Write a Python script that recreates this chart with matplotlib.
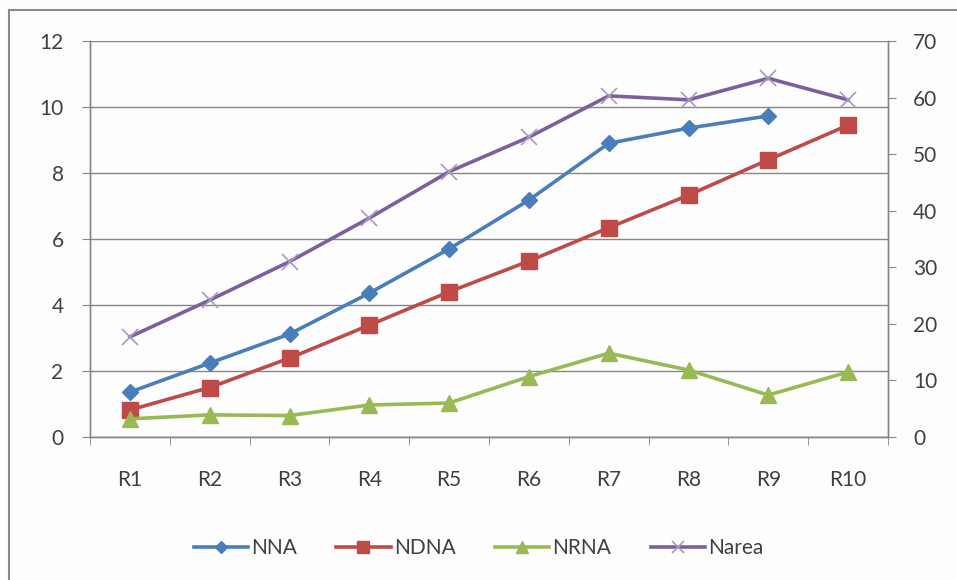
import numpy as np
import matplotlib
matplotlib.use('Agg')
import matplotlib.pyplot as plt
from matplotlib.patches import Rectangle

plt.rcParams['font.family'] = ['Lato', 'DejaVu Sans']

# data: left axis series (NNA, NDNA, NRNA), right axis (Narea)
cats = ['R1', 'R2', 'R3', 'R4', 'R5', 'R6', 'R7', 'R8', 'R9', 'R10']
nna = [1.36, 2.24, 3.12, 4.36, 5.70, 7.18, 8.90, 9.36, 9.73, np.nan]
ndna = [0.82, 1.50, 2.39, 3.39, 4.40, 5.33, 6.34, 7.33, 8.40, 9.45]
nrna = [0.55, 0.67, 0.65, 0.97, 1.03, 1.83, 2.54, 2.03, 1.27, 1.97]
narea = [17.7, 24.2, 31.0, 38.7, 46.9, 53.0, 60.3, 59.6, 63.4, 59.6]

c_nna = '#4a7ebb'
c_ndna = '#be4b48'
c_nrna = '#98b954'
c_narea = '#7d5fa0'
grid_c = '#868686'
txt_c = '#404040'
fs = 15

fig = plt.figure(figsize=(9.57, 5.8), dpi=100)
fig.patch.set_facecolor('#fdfdfd')
# outer chart frame (runs off the right and bottom edges)
fig.patches.append(Rectangle((8.5 / 957, -0.05), 1.0, 1.05 - 10 / 580,
                             transform=fig.transFigure, fill=False,
                             edgecolor='#8a8a8a', lw=1.5))

ax = fig.add_axes([90 / 957, 1 - 437 / 580, (888 - 90) / 957, (437 - 41) / 580])
ax.set_facecolor('none')
ax2 = ax.twinx()

x = np.arange(1, len(cats) + 1)
lw = 2.6
l1, = ax.plot(x, nna, color=c_nna, lw=lw, marker='D', ms=8.5, mec=c_nna, mfc=c_nna, zorder=3)
l2, = ax.plot(x, ndna, color=c_ndna, lw=lw, marker='s', ms=11, mec=c_ndna, mfc=c_ndna, zorder=3)
l3, = ax.plot(x, nrna, color=c_nrna, lw=lw, marker='^', ms=12, mec=c_nrna, mfc=c_nrna, zorder=3)
l4, = ax2.plot(x, narea, color=c_narea, lw=lw, marker='x', ms=12, mew=1.2,
               mec='#a898c4', zorder=3)

ax.set_xlim(0.5, len(cats) + 0.5)
ax.set_ylim(0, 12)
ax.set_yticks(np.arange(0, 13, 2))
ax2.set_ylim(0, 70)
ax2.set_yticks(np.arange(0, 71, 10))

ax.set_xticks(x)
ax.set_xticklabels(cats)
ax.set_xticks(np.arange(0.5, len(cats) + 1, 1), minor=True)
ax.tick_params(axis='x', which='major', length=0, pad=24, labelsize=fs, labelcolor=txt_c)
ax.tick_params(axis='x', which='minor', length=6, color=grid_c, direction='out')
ax.tick_params(axis='y', length=6, color=grid_c, direction='out', pad=13,
               labelsize=fs, labelcolor=txt_c)
ax2.tick_params(axis='y', length=6, color=grid_c, direction='out', pad=12,
                labelsize=fs, labelcolor=txt_c)

ax.yaxis.grid(True, color=grid_c, lw=1.0)
ax.set_axisbelow(True)

for a in (ax, ax2):
    a.spines['top'].set_visible(False)
    for s in ('left', 'right', 'bottom'):
        a.spines[s].set_color(grid_c)
        a.spines[s].set_linewidth(1.0)

fig.legend([l1, l2, l3, l4], ['NNA', 'NDNA', 'NRNA', 'Narea'],
           loc='center', bbox_to_anchor=(0.5, 1 - 548 / 580), ncol=4,
           frameon=False, fontsize=fs, handlelength=2.6, handletextpad=0.15,
           columnspacing=1.9, markerscale=0.75, labelcolor=txt_c)

fig.savefig('out.png', dpi=100, facecolor=fig.get_facecolor())
